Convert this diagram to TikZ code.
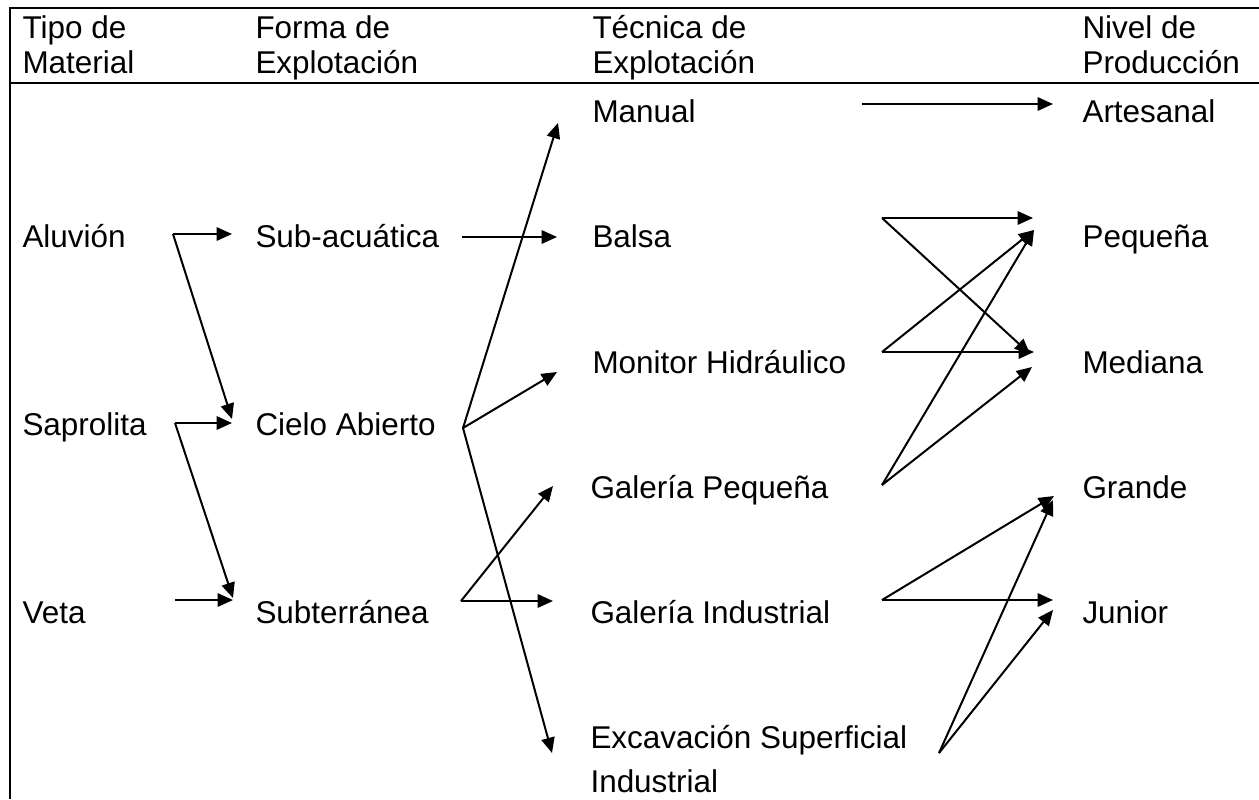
\documentclass[tikz,border=0pt]{standalone}
\usepackage{fontspec}
\setmainfont{Liberation Sans}
\usetikzlibrary{arrows.meta}

\tikzset{every picture/.style={line width=0.75pt}}
\tikzset{
  flecha/.style={line width=1.5pt,-{Triangle[length=11.5pt,width=10pt]}},
  etiq/.style={anchor=base west,inner sep=0pt,font=\fontsize{23.6}{28}\selectfont}
}

\begin{document}
\begin{tikzpicture}[x=0.75pt,y=0.75pt,yscale=-1,xscale=1]
		\path [use as bounding box] (0,0) rectangle (1259,799);

		% marco de la tabla
		\draw [line width=2pt] (1259,8) -- (10,8) -- (10,799) ;
		\draw [line width=1.3pt] (10,83) -- (1259,83) ;

		% encabezados
		\node [etiq] (tipo1) at (22,39) {Tipo de};
		\node [etiq] (tipo2) at (22,74) {Material};
		\node [etiq] (forma1) at (255,39) {Forma de};
		\node [etiq] (forma2) at (255,74) {Explotación};
		\node [etiq] (tecnica1) at (592,39) {Técnica de};
		\node [etiq] (tecnica2) at (592,74) {Explotación};
		\node [etiq] (nivel1) at (1082,39) {Nivel de};
		\node [etiq] (nivel2) at (1082,74) {Producción};

		% columnas
		\node [etiq] (aluvion) at (22,247) {Aluvión};
		\node [etiq] (saprolita) at (22,435) {Saprolita};
		\node [etiq] (veta) at (22,623) {Veta};

		\node [etiq] (subacuatica) at (255,247) {Sub-acuática};
		\node [etiq] (cielo) at (255,435) {Cielo Abierto};
		\node [etiq] (subterranea) at (255,623) {Subterránea};

		\node [etiq] (manual) at (592,122) {Manual};
		\node [etiq] (balsa) at (592,247) {Balsa};
		\node [etiq] (monitor) at (592,373) {Monitor Hidráulico};
		\node [etiq] (galpeq) at (590,498) {Galería Pequeña};
		\node [etiq] (galind) at (590,623) {Galería Industrial};
		\node [etiq] (excav1) at (590,748) {Excavación Superficial};
		\node [etiq] (excav2) at (590,792) {Industrial};

		\node [etiq] (artesanal) at (1082,122) {Artesanal};
		\node [etiq] (pequena) at (1082,247) {Pequeña};
		\node [etiq] (mediana) at (1082,373) {Mediana};
		\node [etiq] (grande) at (1082,498) {Grande};
		\node [etiq] (junior) at (1082,623) {Junior};

		% puntos de salida y llegada
		\coordinate (aluO) at (173,234);
		\coordinate (subacE) at (232,234);
		\coordinate (cieloE1) at (232,419);
		\coordinate (sapO) at (175,423);
		\coordinate (cieloE) at (232,423);
		\coordinate (subtE1) at (233,598);
		\coordinate (vetaO) at (175,600);
		\coordinate (subtE) at (233,600);

		\coordinate (subacO) at (462,237);
		\coordinate (balsaE) at (557,237);
		\coordinate (cieloO) at (463,428);
		\coordinate (manualE) at (558,123);
		\coordinate (monitorE) at (557,372);
		\coordinate (excavE) at (552,753);
		\coordinate (subtO) at (461,601);
		\coordinate (galpeqE) at (553,486);
		\coordinate (galindE) at (553,601);

		\coordinate (manualO) at (862,104);
		\coordinate (artesanalE) at (1053,104);
		\coordinate (balsaO) at (882,218);
		\coordinate (pequenaE1) at (1033,218);
		\coordinate (pequenaE2) at (1034,230);
		\coordinate (monitorO) at (882,352);
		\coordinate (medianaE1) at (1030,354);
		\coordinate (medianaE2) at (1034,352);
		\coordinate (medianaE3) at (1032,367);
		\coordinate (galpeqO) at (882,485);
		\coordinate (galindO) at (882,600);
		\coordinate (grandeE1) at (1054,496);
		\coordinate (grandeE2) at (1053,500);
		\coordinate (juniorE1) at (1053,600);
		\coordinate (juniorE2) at (1053,610);
		\coordinate (excavO) at (939,753);

		% tipo de material -> forma
		\draw [flecha] (aluO) -- (subacE) ;
		\draw [flecha] (aluO) -- (cieloE1) ;
		\draw [flecha] (sapO) -- (cieloE) ;
		\draw [flecha] (sapO) -- (subtE1) ;
		\draw [flecha] (vetaO) -- (subtE) ;

		% forma -> tecnica
		\draw [flecha] (subacO) -- (balsaE) ;
		\draw [flecha] (cieloO) -- (manualE) ;
		\draw [flecha] (cieloO) -- (monitorE) ;
		\draw [flecha] (cieloO) -- (excavE) ;
		\draw [flecha] (subtO) -- (galpeqE) ;
		\draw [flecha] (subtO) -- (galindE) ;

		% tecnica -> nivel
		\draw [flecha] (manualO) -- (artesanalE) ;
		\draw [flecha] (balsaO) -- (pequenaE1) ;
		\draw [flecha] (balsaO) -- (medianaE1) ;
		\draw [flecha] (monitorO) -- (pequenaE2) ;
		\draw [flecha] (monitorO) -- (medianaE2) ;
		\draw [flecha] (galpeqO) -- (pequenaE2) ;
		\draw [flecha] (galpeqO) -- (medianaE3) ;
		\draw [flecha] (galindO) -- (grandeE1) ;
		\draw [flecha] (galindO) -- (juniorE1) ;
		\draw [flecha] (excavO) -- (grandeE2) ;
		\draw [flecha] (excavO) -- (juniorE2) ;

\end{tikzpicture}
\end{document}
